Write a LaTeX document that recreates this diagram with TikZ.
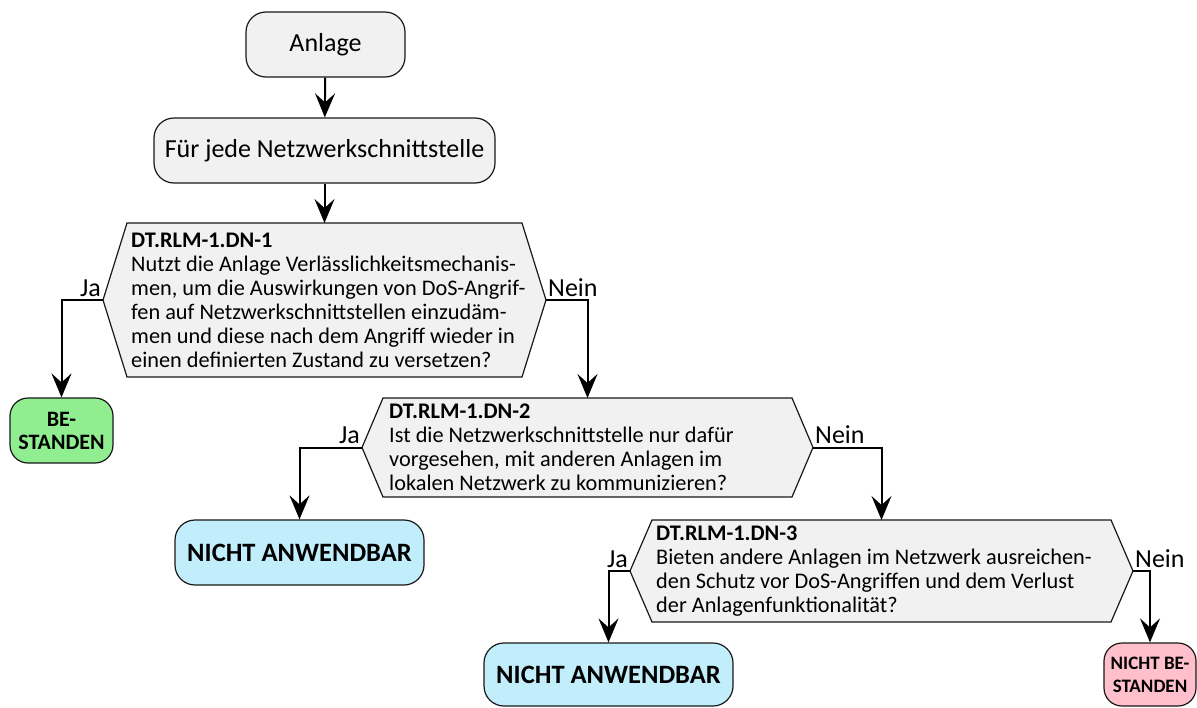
\documentclass[tikz,border=0pt]{standalone}
\usepackage{fontspec}
\setmainfont{Carlito}
\usetikzlibrary{arrows.meta,calc,backgrounds}
\definecolor{boxgray}{HTML}{F1F1F1}
\definecolor{edge}{HTML}{181818}
\definecolor{passgreen}{HTML}{90EE90}
\definecolor{nablue}{HTML}{C2EEFC}
\definecolor{failpink}{HTML}{FFC0CB}
\begin{document}
\begin{tikzpicture}[x=1pt,y=-1pt,
  term/.style={draw=edge, line width=1.2pt, rounded corners=20pt, fill=boxgray,
    inner sep=0pt, align=center, font=\fontsize{26}{30}\selectfont},
  result/.style={term, font=\bfseries\fontsize{26.5}{30}\selectfont},
  smallresult/.style={term, rounded corners=18pt},
  dtext/.style={anchor=west, inner sep=0pt, align=left,
    font=\fontsize{22.3}{24}\selectfont},
  dshape/.style={draw=edge, line width=1.2pt, fill=boxgray},
  conn/.style={draw=black, line width=2pt,
    -{Stealth[length=24pt,width=20pt,inset=9pt]}},
  lbl/.style={inner sep=0pt, font=\fontsize{26}{30}\selectfont}]
\useasboundingbox (0,0) rectangle (1197,707);

% start and loop
\node[term, minimum width=159pt, minimum height=65pt] (start) at (325.5,44.5) {Anlage};
\node[term, minimum width=341pt, minimum height=65pt] (loop) at (324.5,150.5) {Für jede Netzwerkschnittstelle};

% decision hexagons: top edge, bottom edge and side tips
\coordinate (d1n) at (324.5,223);
\coordinate (d1w) at (103,300);
\coordinate (d1e) at (546,300);
\draw[dshape] (127,223) -- (522,223) -- (d1e) -- (522,377) -- (127,377) -- (d1w) -- cycle;

\coordinate (d2n) at (587.5,398);
\coordinate (d2w) at (362,447.5);
\coordinate (d2e) at (813,447.5);
\draw[dshape] (383,398) -- (792,398) -- (d2e) -- (792,497) -- (383,497) -- (d2w) -- cycle;

\coordinate (d3n) at (881.5,520);
\coordinate (d3w) at (630,571);
\coordinate (d3e) at (1133,571);
\draw[dshape] (652,520) -- (1111,520) -- (d3e) -- (1111,622) -- (652,622) -- (d3w) -- cycle;

% decision texts
\node[dtext] (d1) at (131,300) {%
\textbf{DT.RLM-1.DN-1}\\
Nutzt die Anlage Verlässlichkeitsmechanis-\\
men, um die Auswirkungen von DoS-Angrif-\\
fen auf Netzwerkschnittstellen einzudäm-\\
men und diese nach dem Angriff wieder in\\
einen definierten Zustand zu versetzen?};
\node[dtext] (d2) at (389,447.5) {%
\textbf{DT.RLM-1.DN-2}\\
Ist die Netzwerkschnittstelle nur dafür\\
vorgesehen, mit anderen Anlagen im\\
lokalen Netzwerk zu kommunizieren?};
\node[dtext] (d3) at (656,571) {%
\textbf{DT.RLM-1.DN-3}\\
Bieten andere Anlagen im Netzwerk ausreichen-\\
den Schutz vor DoS-Angriffen und dem Verlust\\
der Anlagenfunktionalität?};

% outcomes
\node[smallresult, fill=passgreen, font=\bfseries\fontsize{22}{23}\selectfont, minimum width=103pt, minimum height=65pt] (ok1) at (61.5,430.5) {BE-\\STANDEN};
\node[result, fill=nablue, minimum width=249pt, minimum height=65pt] (na1) at (299.5,552.5) {NICHT ANWENDBAR};
\node[result, fill=nablue, minimum width=249pt, minimum height=63pt] (na2) at (608.5,674.5) {NICHT ANWENDBAR};
\node[smallresult, fill=failpink, font=\bfseries\fontsize{19}{23}\selectfont, minimum width=92pt, minimum height=63pt] (nb) at (1150,674.5) {NICHT BE-\\STANDEN};

% connectors
\draw[conn] (start) -- (loop);
\draw[conn] (loop) -- (d1n);
\draw[conn] (d1w) -| (ok1.north);
\draw[conn] (d1e) -| (d2n);
\draw[conn] (d2w) -| (na1.north);
\draw[conn] (d2e) -| (d3n);
\draw[conn] (d3w) -| (na2.north);
\draw[conn] (d3e) -| (nb.north);

% branch labels
\node[lbl, anchor=base east] (j1) at ($(d1w)+(-2,-4)$) {Ja};
\node[lbl, anchor=base west] (n1) at ($(d1e)+(2,-4)$) {Nein};
\node[lbl, anchor=base east] (j2) at ($(d2w)+(-2,-4)$) {Ja};
\node[lbl, anchor=base west] (n2) at ($(d2e)+(2,-4)$) {Nein};
\node[lbl, anchor=base east] (j3) at ($(d3w)+(-2,-4)$) {Ja};
\node[lbl, anchor=base west] (n3) at ($(d3e)+(2,-4)$) {Nein};
\end{tikzpicture}
\end{document}
